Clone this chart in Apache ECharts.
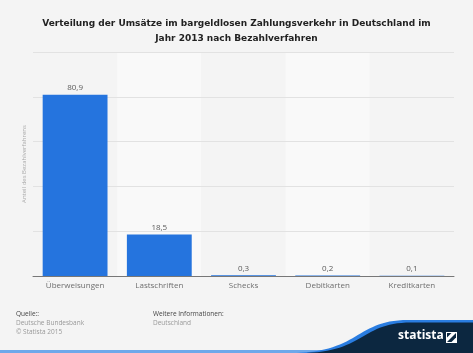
<!DOCTYPE html>
<html>
<head>
<meta charset="utf-8">
<script src="https://cdn.jsdelivr.net/npm/echarts@6/dist/echarts.min.js"></script>
<style>
  html, body { margin: 0; padding: 0; background: #f4f4f4; }
  #chart { width: 473px; height: 353px; }
</style>
</head>
<body>
<div id="chart"></div>
<script>
var categories = ["Überweisungen", "Lastschriften", "Schecks", "Debitkarten", "Kreditkarten"];
var values = [80.9, 18.5, 0.3, 0.2, 0.1];

var chart = echarts.init(document.getElementById("chart"));

// logo swoosh outline (decoration only)
function swoosh(x0, y0, c1x, c2x, x1, y1) {
  var pts = [];
  for (var i = 0; i <= 30; i++) {
    var t = i / 30, u = 1 - t;
    var x = u * u * u * x0 + 3 * u * u * t * c1x + 3 * u * t * t * c2x + t * t * t * x1;
    var y = u * u * u * y0 + 3 * u * u * t * y0 + 3 * u * t * t * y1 + t * t * t * y1;
    pts.push([x, y]);
  }
  pts.push([473, y1], [473, 353]);
  return pts;
}

var narrow = "Liberation Sans Narrow, Open Sans";

var option = {
  backgroundColor: "#f4f4f4",
  animation: false,
  title: {
    text: "Verteilung der Umsätze im bargeldlosen Zahlungsverkehr in Deutschland im\nJahr 2013 nach Bezahlverfahren",
    left: "center",
    top: 11,
    textStyle: {
      fontFamily: "DejaVu Sans",
      fontSize: 9,
      fontWeight: "bold",
      color: "#222",
      lineHeight: 15
    }
  },
  grid: { left: 33, right: 19, top: 52, bottom: 77 },
  xAxis: [{
    type: "category",
    data: categories,
    z: 0,
    axisLine: { show: false },
    axisTick: { show: false },
    axisLabel: { color: "#6e6e6e", fontSize: 8, fontFamily: narrow, margin: 6 },
    splitArea: { show: true, areaStyle: { color: ["#f4f4f4", "#f9f9f9"] } }
  }, {
    // overlay axis so the baseline sits above the gridlines
    type: "category",
    data: categories,
    position: "bottom",
    z: 3,
    axisLine: { show: true, lineStyle: { color: "#777", width: 1 } },
    axisTick: { show: false },
    axisLabel: { show: false },
    splitArea: { show: false }
  }],
  yAxis: {
    type: "value",
    min: 0,
    max: 100,
    interval: 20,
    z: 1,
    name: "Anteil des Bezahlverfahrens",
    nameLocation: "middle",
    nameGap: 6,
    nameTextStyle: { color: "#aaa", fontSize: 6, fontFamily: narrow },
    axisLabel: { show: false },
    axisLine: { show: false },
    axisTick: { show: false },
    splitLine: { lineStyle: { color: "#e2e2e2" } }
  },
  series: [{
    type: "bar",
    data: values,
    barWidth: "77%",
    itemStyle: { color: "#2574de" },
    label: {
      show: true,
      position: "top",
      distance: 3,
      color: "#5a5a5a",
      fontSize: 8,
      fontFamily: narrow,
      formatter: function (p) { return String(p.value).replace(".", ","); }
    }
  }],
  graphic: [
    { type: "text", x: 16, y: 311, style: { text: "Quelle::", fill: "#444", fontSize: 6.5, fontFamily: narrow } },
    { type: "text", x: 16, y: 320, style: { text: "Deutsche Bundesbank", fill: "#999", fontSize: 6.5, fontFamily: narrow } },
    { type: "text", x: 16, y: 329, style: { text: "© Statista 2015", fill: "#999", fontSize: 6.5, fontFamily: narrow } },
    { type: "text", x: 153, y: 311, style: { text: "Weitere Informationen:", fill: "#444", fontSize: 6.5, fontFamily: narrow } },
    { type: "text", x: 153, y: 320, style: { text: "Deutschland", fill: "#999", fontSize: 6.5, fontFamily: narrow } },
    { type: "rect", shape: { x: 0, y: 350, width: 473, height: 3 }, style: { fill: "#6ea8ea" } },
    { type: "polygon", shape: { points: swoosh(290, 353, 360, 355, 408, 320) }, style: { fill: "#2a7de1" } },
    { type: "polygon", shape: { points: swoosh(300, 353, 365, 360, 411, 322.5) }, style: { fill: "#0c2740" } },
    { type: "text", x: 398, y: 330, style: { text: "statista", fill: "#fff", fontSize: 12, fontWeight: "bold", fontFamily: narrow } },
    { type: "rect", shape: { x: 446, y: 332, width: 11, height: 11 }, style: { fill: "#fff" } },
    { type: "polygon", shape: { points: [[447, 342], [456, 333], [456, 337.5], [451.5, 342]] }, style: { fill: "#0c2740" } },
    { type: "polygon", shape: { points: [[447, 333], [451.5, 333], [447, 337.5]] }, style: { fill: "#0c2740" } }
  ]
};

chart.setOption(option);
</script>
</body>
</html>
